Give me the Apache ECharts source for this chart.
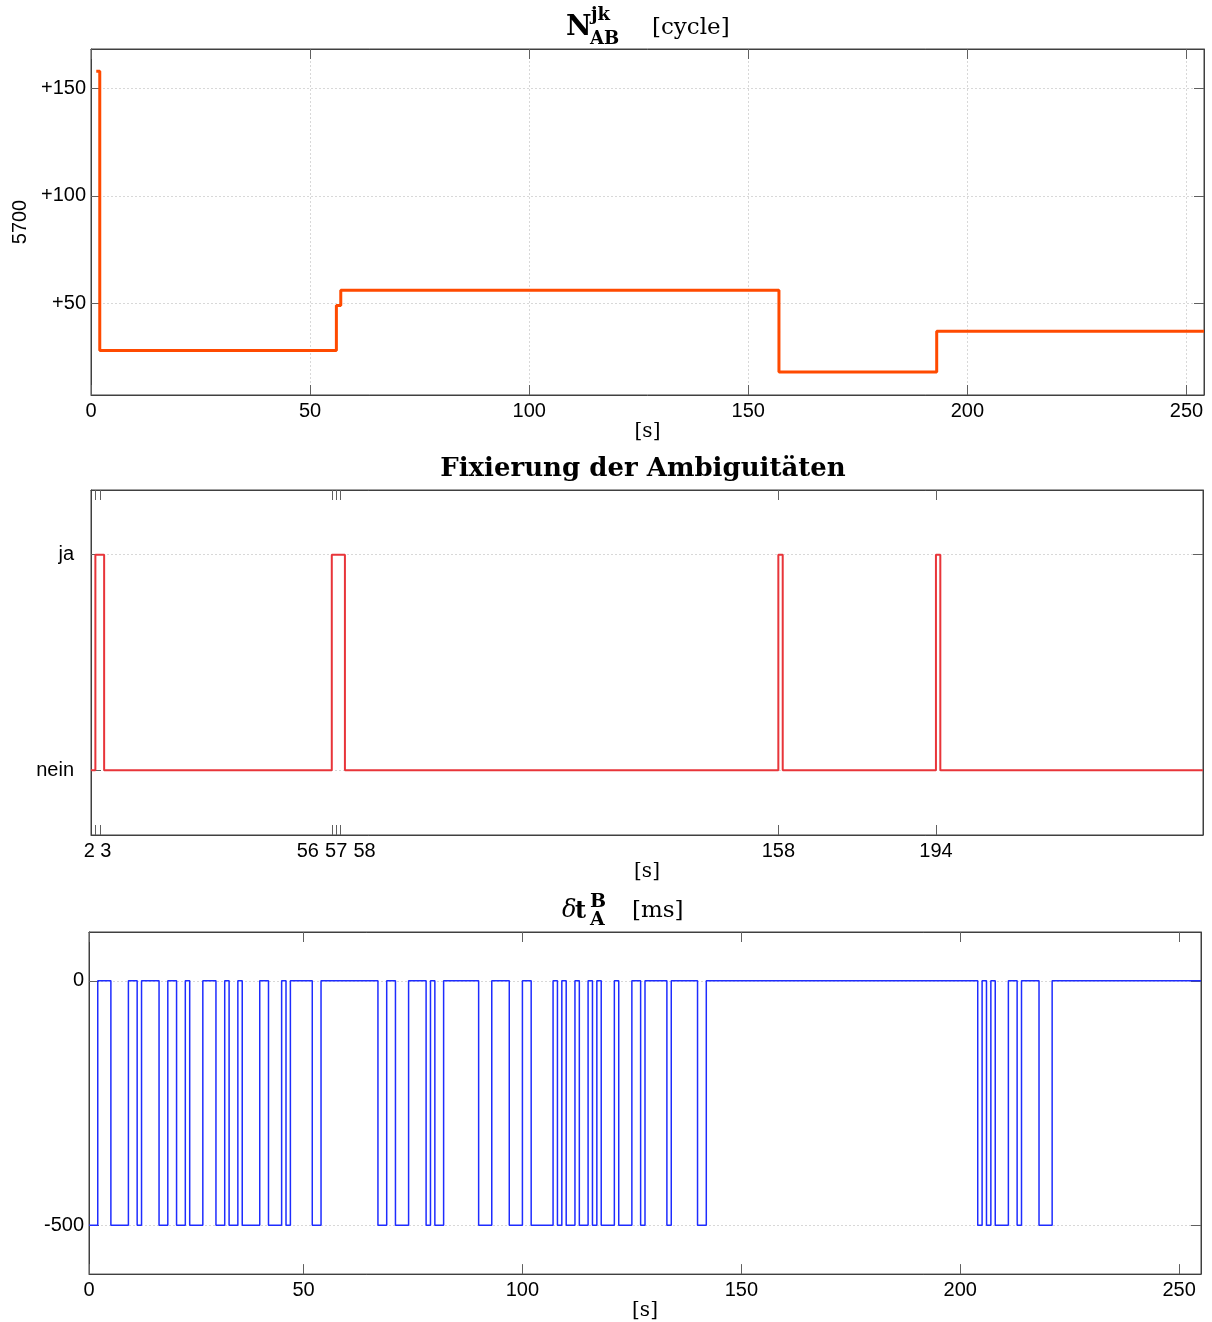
<!DOCTYPE html>
<html><head><meta charset="utf-8">
<script src="https://cdn.jsdelivr.net/npm/echarts@6/dist/echarts.min.js"></script>
<style>html,body{margin:0;padding:0;background:#fff}#c{width:1212px;height:1322px}</style>
</head><body><div id="c"></div>
<script>
// ---- Panel 1: N_AB^jk [cycle] (offset from 5700) ----
const ambTimes  = [1.2, 2, 56, 57, 157, 193, 254];
const ambValues = [158, 28, 49, 56, 18, 37, 37];
const ambXTicks = [0, 50, 100, 150, 200, 250];
const ambYTicks = [50, 100, 150];
const ambYName  = '5700';

// ---- Panel 2: Fixierung der Ambiguitäten ----
const fixTimes  = [1, 2, 4, 56, 59, 158, 159, 194, 195, 255];
const fixValues = [0, 1, 0, 1, 0, 1, 0, 1, 0, 0];
const fixXTicks = [2, 3, 56, 57, 58, 158, 194];
const fixYTicks = [0, 1];
const fixYLabels = ['nein', 'ja'];

// ---- Panel 3: delta t_A^B [ms] ----
const dtTimes = [1, 3, 6, 10, 12, 13, 17, 19, 21, 23, 24, 27, 30, 32, 33, 35, 36, 40, 42, 45, 46, 47, 52, 54,
  67, 69, 71, 74, 78, 79, 80, 82, 90, 93, 97, 100, 102, 107, 108, 109, 110, 112, 113, 115, 116, 117, 118, 121,
  122, 125, 127, 128, 133, 134, 140, 142,
  204, 205, 206, 207, 208, 211, 213, 214, 218, 221, 255];
const dtValues = [-500, 0, -500, 0, -500, 0, -500, 0, -500, 0, -500, 0, -500, 0, -500, 0, -500, 0, -500, 0, -500, 0, -500, 0,
  -500, 0, -500, 0, -500, 0, -500, 0, -500, 0, -500, 0, -500, 0, -500, 0, -500, 0, -500, 0, -500, 0, -500, 0,
  -500, 0, -500, 0, -500, 0, -500, 0,
  -500, 0, -500, 0, -500, 0, -500, 0, -500, 0, 0];
const dtXTicks = [1, 50, 100, 150, 200, 250];
const dtXLabels = ['0', '50', '100', '150', '200', '250'];
const dtYTicks = [-500, 0];

// layout only: horizontal label nudges (px) for the crowded panel-2 tick labels
const fixLabelNudge = [-6, 6, -24, 0, 24, 0, 0];

const zip = (a, b) => a.map((v, i) => [v, b[i]]);

const SANS = '"Liberation Sans", Arial, sans-serif';
const SERIF = '"DejaVu Serif", serif';
const boxColor = '#404040';
const tickColor = '#606060';
const gridLine = { show: true, lineStyle: { color: '#d8d8d8', type: [2, 2], width: 1 } };

const fixRich = {};
fixLabelNudge.forEach((s, i) => {
  fixRich['p' + i] = { fontFamily: SANS, fontSize: 20, color: '#000',
    padding: s >= 0 ? [0, 0, 0, 2 * s] : [0, -2 * s, 0, 0] };
});

function xAxisPair(gi, min, max, ticks, fmt, grid, rich) {
  const label = { show: true, customValues: ticks, formatter: fmt, color: '#000', fontFamily: SANS, fontSize: 20, margin: 6,
    showMinLabel: true, showMaxLabel: true, hideOverlap: false };
  if (rich) label.rich = rich;
  return [
    { type: 'value', gridIndex: gi, position: 'bottom', min, max,
      axisLine: { show: true, onZero: false, lineStyle: { color: boxColor } },
      axisTick: { show: true, inside: true, length: 10, customValues: ticks, lineStyle: { color: tickColor } },
      axisLabel: label,
      splitLine: grid ? gridLine : { show: false },
      name: '[s]', nameLocation: 'middle', nameGap: 26,
      nameTextStyle: { fontFamily: SERIF, fontSize: 20, color: '#000', verticalAlign: 'top' } },
    { type: 'value', gridIndex: gi, position: 'top', min, max,
      axisLine: { show: true, onZero: false, lineStyle: { color: boxColor } },
      axisTick: { show: true, inside: true, length: 10, customValues: ticks, lineStyle: { color: tickColor } },
      axisLabel: { show: false }, splitLine: { show: false } }
  ];
}
function yAxisPair(gi, min, max, ticks, fmt, name, margin) {
  return [
    { type: 'value', gridIndex: gi, position: 'left', min, max,
      axisLine: { show: true, onZero: false, lineStyle: { color: boxColor } },
      axisTick: { show: true, inside: true, length: 10, customValues: ticks, lineStyle: { color: tickColor } },
      axisLabel: { show: true, customValues: ticks, formatter: fmt, color: '#000', fontFamily: SANS, fontSize: 20, margin: margin,
        showMinLabel: true, showMaxLabel: true },
      splitLine: gridLine,
      name: name || '', nameLocation: 'middle', nameGap: 55, nameRotate: 90,
      nameTextStyle: { fontFamily: SANS, fontSize: 20, color: '#000' } },
    { type: 'value', gridIndex: gi, position: 'right', min, max,
      axisLine: { show: true, onZero: false, lineStyle: { color: boxColor } },
      axisTick: { show: true, inside: true, length: 10, customValues: ticks, lineStyle: { color: tickColor } },
      axisLabel: { show: false }, splitLine: { show: false } }
  ];
}

const chart = echarts.init(document.getElementById('c'), null, { renderer: 'canvas' });
const option = {
  animation: false,
  backgroundColor: '#fff',
  grid: [
    { left: 91, top: 49, width: 1113, height: 346, show: true, borderColor: boxColor, borderWidth: 1 },
    { left: 91, top: 490, width: 1112, height: 345, show: true, borderColor: boxColor, borderWidth: 1 },
    { left: 89, top: 932, width: 1112, height: 344, show: true, borderColor: boxColor, borderWidth: 1 }
  ],
  xAxis: [
    ...xAxisPair(0, 0, 254, ambXTicks, v => String(v), true),
    ...xAxisPair(1, 1, 255, fixXTicks, v => { const i = fixXTicks.indexOf(v); return '{p' + i + '|' + v + '}'; }, false, fixRich),
    ...xAxisPair(2, 1, 255, dtXTicks, v => dtXLabels[dtXTicks.indexOf(v)], false)
  ],
  yAxis: [
    ...yAxisPair(0, 7.3, 168.3, ambYTicks, v => '+' + v, ambYName, 5),
    ...yAxisPair(1, -0.3, 1.3, fixYTicks, v => fixYLabels[fixYTicks.indexOf(v)], '', 17),
    ...yAxisPair(2, -600, 100, dtYTicks, v => String(v), '', 5)
  ],
  series: [
    { type: 'line', xAxisIndex: 0, yAxisIndex: 0, data: zip(ambTimes, ambValues), step: 'end',
      showSymbol: false, lineStyle: { color: '#ff4a00', width: 3 }, z: 5 },
    { type: 'line', xAxisIndex: 2, yAxisIndex: 2, data: zip(fixTimes, fixValues), step: 'end',
      showSymbol: false, lineStyle: { color: '#e8353a', width: 2 }, z: 5 },
    { type: 'line', xAxisIndex: 4, yAxisIndex: 4, data: zip(dtTimes, dtValues), step: 'end',
      showSymbol: false, lineStyle: { color: '#1e2cff', width: 1.5 }, z: 5 }
  ],
  graphic: [
    { type: 'text', x: 566, y: 28, style: { text: 'N', font: 'bold 28px ' + SERIF, fill: '#000', textVerticalAlign: 'middle' } },
    { type: 'text', x: 591, y: 15, style: { text: 'jk', font: 'bold 18px ' + SERIF, fill: '#000', textVerticalAlign: 'middle' } },
    { type: 'text', x: 590, y: 39, style: { text: 'AB', font: 'bold 18px ' + SERIF, fill: '#000', textVerticalAlign: 'middle' } },
    { type: 'text', x: 652, y: 28, style: { text: '[cycle]', font: '23px ' + SERIF, fill: '#000', textVerticalAlign: 'middle' } },
    { type: 'text', x: 643, y: 469, style: { text: 'Fixierung der Ambiguitäten', font: 'bold 26px ' + SERIF, fill: '#000', textAlign: 'center', textVerticalAlign: 'middle' } },
    { type: 'text', x: 562, y: 911, style: { text: 'δ', font: 'italic 24px ' + SERIF, fill: '#000', textVerticalAlign: 'middle' } },
    { type: 'text', x: 575, y: 912, style: { text: 't', font: 'bold 24px ' + SERIF, fill: '#000', textVerticalAlign: 'middle' } },
    { type: 'text', x: 590, y: 902, style: { text: 'B', font: 'bold 19px ' + SERIF, fill: '#000', textVerticalAlign: 'middle' } },
    { type: 'text', x: 590, y: 920, style: { text: 'A', font: 'bold 19px ' + SERIF, fill: '#000', textVerticalAlign: 'middle' } },
    { type: 'text', x: 632, y: 911, style: { text: '[ms]', font: '23px ' + SERIF, fill: '#000', textVerticalAlign: 'middle' } }
  ]
};
chart.setOption(option);
</script>
</body></html>
